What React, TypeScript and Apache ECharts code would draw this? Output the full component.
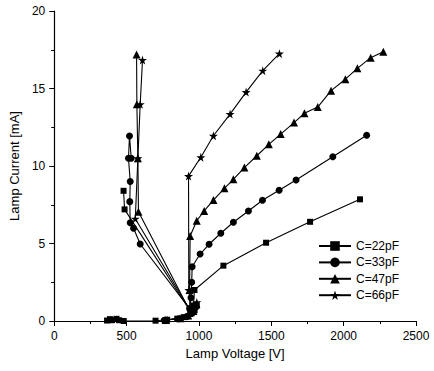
import React, { useEffect, useRef } from "react";
import * as echarts from "echarts";

const seriesNames = ["C=22pF", "C=33pF", "C=47pF", "C=66pF"];

// Near-zero (pre-breakdown) region, [V, mA]
const low22: [number, number][] = [[365, 0.03], [385, 0.12], [400, 0.05], [430, 0.14], [448, 0.05], [480, 0.0], [700, 0.02], [780, 0.08], [850, 0.15], [900, 0.25], [940, 0.45], [970, 0.7], [985, 1.0]];
const low33: [number, number][] = [[760, 0.05], [860, 0.15], [920, 0.3], [960, 0.6], [980, 0.9]];
const low47: [number, number][] = [[770, 0.06], [870, 0.18], [925, 0.35], [962, 0.65], [982, 1.1]];
const low66: [number, number][] = [[780, 0.07], [880, 0.2], [930, 0.4], [965, 0.75], [985, 1.2]];

// Main hysteresis curves, [V, mA]
const main22: [number, number][] = [[479, 8.4], [486, 7.2], [950, 0.5], [962, 1.0], [969, 2.0], [1169, 3.57], [1464, 5.05], [1768, 6.4], [2113, 7.85]];
const main33: [number, number][] = [[532, 10.5], [520, 11.93], [513, 10.5], [525, 9.0], [522, 7.7], [525, 6.34], [548, 5.98], [594, 4.97], [935, 0.8], [945, 1.5], [950, 2.5], [953, 3.5], [1008, 4.32], [1070, 4.95], [1151, 5.66], [1238, 6.37], [1342, 7.1], [1439, 7.79], [1554, 8.43], [1671, 9.1], [1925, 10.6], [2159, 11.98]];
const main47: [number, number][] = [[569, 17.2], [571, 13.98], [578, 10.5], [582, 7.05], [940, 0.6], [935, 2.0], [939, 5.48], [985, 6.47], [1036, 7.1], [1100, 7.8], [1176, 8.56], [1238, 9.14], [1314, 9.9], [1400, 10.66], [1483, 11.4], [1565, 12.06], [1657, 12.8], [1729, 13.4], [1821, 13.8], [1913, 14.86], [2012, 15.6], [2095, 16.3], [2187, 16.99], [2274, 17.37]];
const main66: [number, number][] = [[610, 16.84], [594, 13.98], [578, 10.5], [560, 6.6], [945, 0.6], [930, 2.0], [928, 9.35], [1013, 10.56], [1100, 11.95], [1215, 13.35], [1326, 14.77], [1441, 16.15], [1556, 17.25]];

const starPath = "path://M50,0 L61,35 L98,35 L68,57 L79,91 L50,70 L21,91 L32,57 L2,35 L39,35 Z";
const symbols = ["rect", "circle", "triangle", starPath];
const symbolSizes = [6, 7, 8, 9];
const lows = [low22, low33, low47, low66];
const mains = [main22, main33, main47, main66];

const FONT = "'Liberation Sans', Arial, sans-serif";

export default function App() {
  const ref = useRef<HTMLDivElement>(null);
  useEffect(() => {
    if (!ref.current) return;
    const chart = echarts.init(ref.current, null, { renderer: "svg" });
    const series: any[] = seriesNames.map((name, i) => ({
      name,
      type: "line",
      data: [...lows[i], [1000, "-"], ...mains[i]],
      connectNulls: false,
      symbol: symbols[i],
      symbolSize: symbolSizes[i],
      showAllSymbol: true,
      lineStyle: { color: "#000", width: 1.1 },
      itemStyle: { color: "#000", borderWidth: 0 },
      emphasis: { disabled: true },
    }));
    chart.setOption({
      animation: false,
      backgroundColor: "#fff",
      textStyle: { fontFamily: FONT },
      grid: { left: 54, right: 18, top: 11, bottom: 50 },
      legend: {
        orient: "vertical",
        left: 318,
        top: 240,
        padding: 0,
        itemWidth: 32,
        itemHeight: 12,
        itemGap: 4.4,
        textStyle: { fontSize: 12, color: "#000", fontFamily: FONT },
        data: seriesNames,
      },
      xAxis: {
        type: "value",
        min: 0,
        max: 2500,
        interval: 500,
        name: "Lamp Voltage [V]",
        nameLocation: "middle",
        nameGap: 22,
        nameTextStyle: { fontSize: 13, color: "#000", fontFamily: FONT },
        axisLine: { lineStyle: { color: "#000", width: 1.2 } },
        axisTick: { show: true, length: 5, lineStyle: { color: "#000" } },
        minorTick: { show: true, splitNumber: 2, length: 3, lineStyle: { color: "#000" } },
        axisLabel: { fontSize: 12, color: "#000", margin: 9, fontFamily: FONT, formatter: (v: number) => String(v) },
        splitLine: { show: false },
      },
      yAxis: {
        type: "value",
        min: 0,
        max: 20,
        interval: 5,
        name: "Lamp Current [mA]",
        nameLocation: "middle",
        nameGap: 29,
        nameTextStyle: { fontSize: 13, color: "#000", fontFamily: FONT },
        axisLine: { show: true, lineStyle: { color: "#000", width: 1.2 } },
        axisTick: { show: true, length: 5, lineStyle: { color: "#000" } },
        minorTick: { show: true, splitNumber: 2, length: 3, lineStyle: { color: "#000" } },
        axisLabel: { fontSize: 12, color: "#000", margin: 9, fontFamily: FONT, formatter: (v: number) => String(v) },
        splitLine: { show: false },
      },
      series,
    });
    return () => chart.dispose();
  }, []);
  return (
    <div
      ref={ref}
      style={{ position: "fixed", left: 0, top: 0, width: 434, height: 371, background: "#fff" }}
    />
  );
}
